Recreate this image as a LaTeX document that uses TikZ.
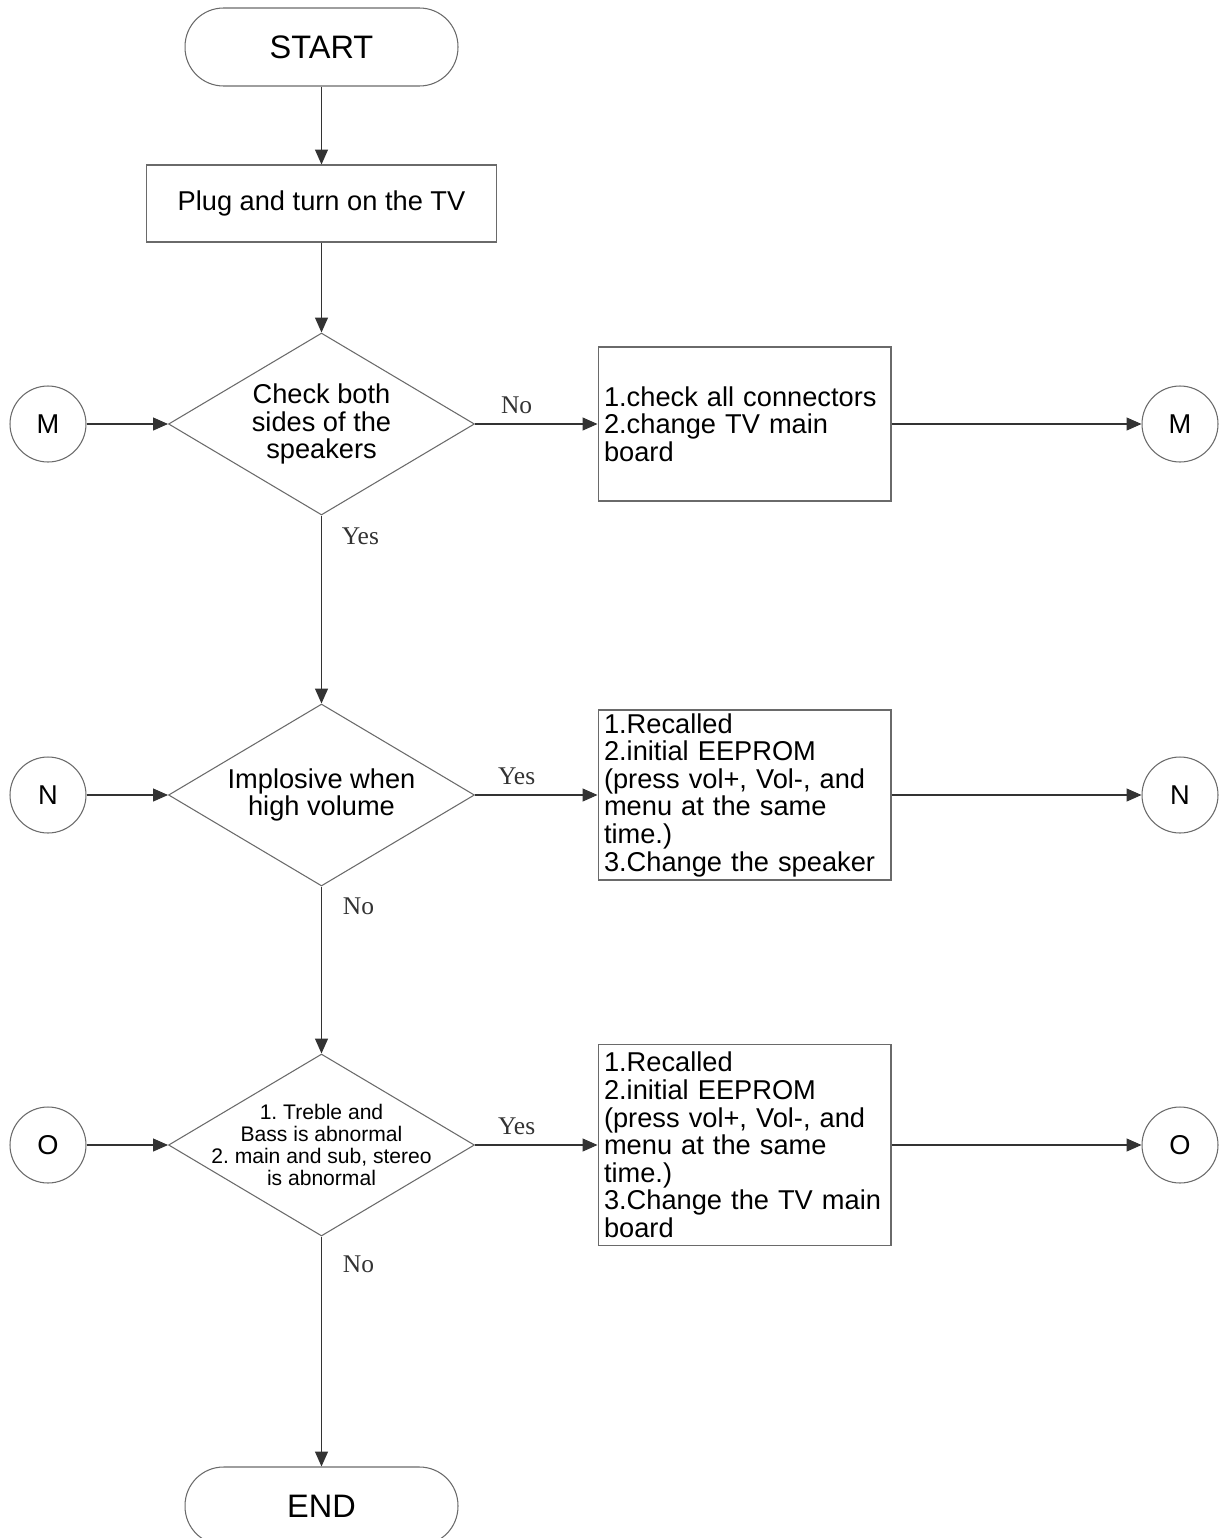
\documentclass[tikz,border=0pt]{standalone}
\usepackage{fontspec}
\setmainfont{Liberation Sans}
\newfontfamily\yesnofont{Liberation Serif}
\usetikzlibrary{arrows.meta, shapes.geometric}
\definecolor{edgegray}{HTML}{6A6A6A}
\definecolor{flowgray}{HTML}{333333}
\frenchspacing

\begin{document}
\begin{tikzpicture}[x=0.02cm, y=-0.02cm,
  >={Triangle[length=8.5pt, width=7.4pt]},
  outline/.style={draw=edgegray, line width=0.6pt, fill=white},
  terminal/.style={outline, rectangle, rounded corners=0.77cm,
    minimum width=5.46cm, minimum height=1.56cm,
    font=\fontsize{18.5}{20}\selectfont},
  process/.style={outline, rectangle, minimum width=7.02cm,
    minimum height=1.54cm, font=\fontsize{15.5}{15.7}\selectfont},
  action/.style={outline, rectangle, text width=5.62cm, inner xsep=0.12cm,
    inner ysep=0pt, align=left, font=\fontsize{15.5}{15.7}\selectfont},
  decision/.style={outline, diamond, minimum width=6.12cm,
    minimum height=3.64cm, inner sep=0pt},
  qtext/.style={align=center, font=\fontsize{15.5}{15.7}\selectfont},
  qsmall/.style={align=center, font=\fontsize{12}{12.5}\selectfont},
  connector/.style={outline, circle, minimum size=1.52cm, inner sep=0pt,
    font=\fontsize{15.5}{18}\selectfont},
  flow/.style={draw=flowgray, line width=0.6pt},
  yesno/.style={font=\yesnofont\fontsize{14.5}{16}\selectfont, text=flowgray}
]

% Page
\fill[white] (0,0) rectangle (1218,1538);
\useasboundingbox (0,0) rectangle (1218,1538);

% ================================================================
% Top: start and power on
% ================================================================
\node[terminal] (start) at (321.5,47) {START};
\node[process] (plug) at (321.5,203.5) {Plug and turn on the TV};

% ================================================================
% Step M: speakers
% ================================================================
\node[decision] (q1) at (321.5,424) {};
\node[qtext] (q1txt) at (q1) {Check both\\sides of the\\speakers};
\node[action, minimum height=3.08cm] (fix1) at (744.5,424)
  {1.check all connectors\\2.change TV main\\board};
\node[connector] (mIn) at (48,424) {M};
\node[connector] (mOut) at (1180,424) {M};

% ================================================================
% Step N: volume
% ================================================================
\node[decision] (q2) at (321.5,795) {};
\node[qtext] (q2txt) at (q2) {Implosive when\\high volume};
\node[action, minimum height=3.4cm] (fix2) at (744.5,795)
  {1.Recalled\\2.initial EEPROM\\(press vol+, Vol-, and\\menu at the same\\time.)\\3.Change the speaker};
\node[connector] (nIn) at (48,795) {N};
\node[connector] (nOut) at (1180,795) {N};

% ================================================================
% Step O: treble / bass / stereo
% ================================================================
\node[decision] (q3) at (321.5,1145) {};
\node[qsmall] (q3txt) at (q3)
  {1. Treble and\\Bass is abnormal\\2. main and sub, stereo\\is abnormal};
\node[action, minimum height=4.02cm] (fix3) at (744.5,1145)
  {1.Recalled\\2.initial EEPROM\\(press vol+, Vol-, and\\menu at the same\\time.)\\3.Change the TV main\\board};
\node[connector] (oIn) at (48,1145) {O};
\node[connector] (oOut) at (1180,1145) {O};

\node[terminal] (finish) at (321.5,1506) {END};

% ================================================================
% Connectors
% ================================================================
\draw[flow,->] (start) -- (plug);
\draw[flow,->] (plug) -- (q1);

\draw[flow,->] (mIn) -- (q1);
\draw[flow,->] (q1) -- node[yesno, pos=0.34, above, yshift=2pt] {No} (fix1);
\draw[flow,->] (fix1) -- (mOut);
\draw[flow,->] (q1) -- node[yesno, pos=0.11, anchor=west, xshift=0.28cm] {Yes} (q2);

\draw[flow,->] (nIn) -- (q2);
\draw[flow,->] (q2) -- node[yesno, pos=0.34, above, yshift=2pt] {Yes} (fix2);
\draw[flow,->] (fix2) -- (nOut);
\draw[flow,->] (q2) -- node[yesno, pos=0.12, anchor=west, xshift=0.3cm] {No} (q3);

\draw[flow,->] (oIn) -- (q3);
\draw[flow,->] (q3) -- node[yesno, pos=0.34, above, yshift=2pt] {Yes} (fix3);
\draw[flow,->] (fix3) -- (oOut);
\draw[flow,->] (q3) -- node[yesno, pos=0.12, anchor=west, xshift=0.3cm] {No} (finish);

\end{tikzpicture}
\end{document}
